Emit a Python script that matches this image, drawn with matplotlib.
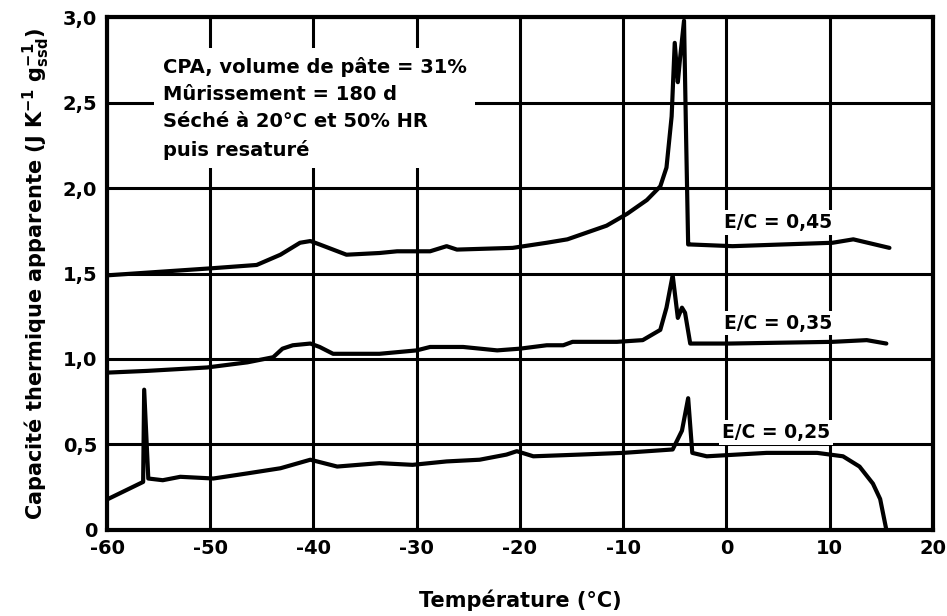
import numpy as np
import matplotlib
matplotlib.use('Agg')
import matplotlib.pyplot as plt

plt.rcParams['font.family'] = ['DejaVu Sans']
plt.rcParams['font.weight'] = 'bold'
plt.rcParams['axes.labelweight'] = 'bold'
plt.rcParams['mathtext.default'] = 'bf'

# E/C = 0,45
t45 = [-59.8, -50.0, -45.5, -43.2, -41.3, -40.3, -39.4, -36.8, -33.6, -31.9, -28.7,
       -27.1, -26.1, -20.7, -17.4, -15.4, -13.5, -11.6, -9.6, -7.7, -6.4, -5.8,
       -5.3, -5.0, -4.7, -4.5, -4.1, -3.9, -3.7, -3.5, 0.6, 10.3, 12.3, 15.8]
c45 = [1.49, 1.53, 1.55, 1.61, 1.68, 1.69, 1.67, 1.61, 1.62, 1.63, 1.63,
       1.66, 1.64, 1.65, 1.68, 1.70, 1.74, 1.78, 1.85, 1.93, 2.01, 2.12,
       2.42, 2.85, 2.62, 2.75, 2.98, 2.30, 1.67, 1.67, 1.66, 1.68, 1.70, 1.65]

# E/C = 0,35
t35 = [-59.9, -56.1, -50.3, -46.4, -43.9, -43.0, -42.0, -40.3, -39.4, -38.1, -33.6,
       -30.0, -28.7, -25.5, -22.2, -20.0, -17.4, -15.8, -14.9, -10.6, -8.1, -6.4,
       -5.8, -5.2, -4.7, -4.3, -4.0, -3.5, 0.3, 10.3, 13.6, 15.5]
c35 = [0.92, 0.93, 0.95, 0.98, 1.01, 1.06, 1.08, 1.09, 1.07, 1.03, 1.03,
       1.05, 1.07, 1.07, 1.05, 1.06, 1.08, 1.08, 1.10, 1.10, 1.11, 1.17,
       1.30, 1.49, 1.24, 1.30, 1.27, 1.09, 1.09, 1.10, 1.11, 1.09]

# E/C = 0,25
t25 = [-59.9, -56.5, -56.4, -56.0, -54.6, -52.9, -49.7, -46.4, -43.2, -40.3, -37.7,
       -33.6, -30.4, -27.1, -23.9, -21.3, -20.3, -18.7, -14.2, -10.0, -5.2, -4.3,
       -3.7, -3.3, -1.9, 3.9, 8.8, 11.3, 12.9, 14.2, 14.9, 15.5]
c25 = [0.18, 0.28, 0.82, 0.30, 0.29, 0.31, 0.30, 0.33, 0.36, 0.41, 0.37,
       0.39, 0.38, 0.40, 0.41, 0.44, 0.46, 0.43, 0.44, 0.45, 0.47, 0.58,
       0.77, 0.45, 0.43, 0.45, 0.45, 0.43, 0.37, 0.27, 0.18, 0.0]

xticks = [-60, -50, -40, -30, -20, -10, 0, 10, 20]
yticks = [0, 0.5, 1.0, 1.5, 2.0, 2.5, 3.0]
ylabels = ['0', '0,5', '1,0', '1,5', '2,0', '2,5', '3,0']

fig = plt.figure(figsize=(9.47, 6.16), dpi=100)
ax = fig.add_axes([0.113, 0.140, 0.872, 0.832])

for t, c in [(t45, c45), (t35, c35), (t25, c25)]:
    ax.plot(t, c, color='black', lw=3.0, zorder=4, solid_joinstyle='round', solid_capstyle='round')

ax.set_xlim(-60, 20)
ax.set_ylim(0, 3.0)
ax.set_xticks(xticks)
ax.set_xticklabels([str(v) for v in xticks])
ax.set_yticks(yticks)
ax.set_yticklabels(ylabels)
ax.tick_params(length=0, labelsize=14, pad=7)
ax.grid(True, color='black', lw=2.2)
ax.set_axisbelow(True)
for s in ax.spines.values():
    s.set_linewidth(3)

bb = dict(facecolor='white', edgecolor='none', pad=2)
ax.text(-54.6, 2.77, 'CPA, volume de pâte = 31%\nMûrissement = 180 d\nSéché à 20°C et 50% HR\npuis resaturé',
        fontsize=14, va='top', ha='left', linespacing=1.55, zorder=3,
        bbox=dict(facecolor='white', edgecolor='none', pad=6))
ax.text(5.0, 1.80, 'E/C = 0,45', fontsize=13.5, ha='center', va='center', zorder=3, bbox=bb)
ax.text(5.0, 1.21, 'E/C = 0,35', fontsize=13.5, ha='center', va='center', zorder=3, bbox=bb)
ax.text(4.8, 0.57, 'E/C = 0,25', fontsize=13.5, ha='center', va='center', zorder=3, bbox=bb)

ax.set_xlabel('Température (°C)', fontsize=15, labelpad=22)
ax.set_ylabel(r'Capacité thermique apparente (J K$^{-1}$ g$^{-1}_{ssd}$)',
              fontsize=15, labelpad=8)

fig.savefig('out.png', dpi=100)
